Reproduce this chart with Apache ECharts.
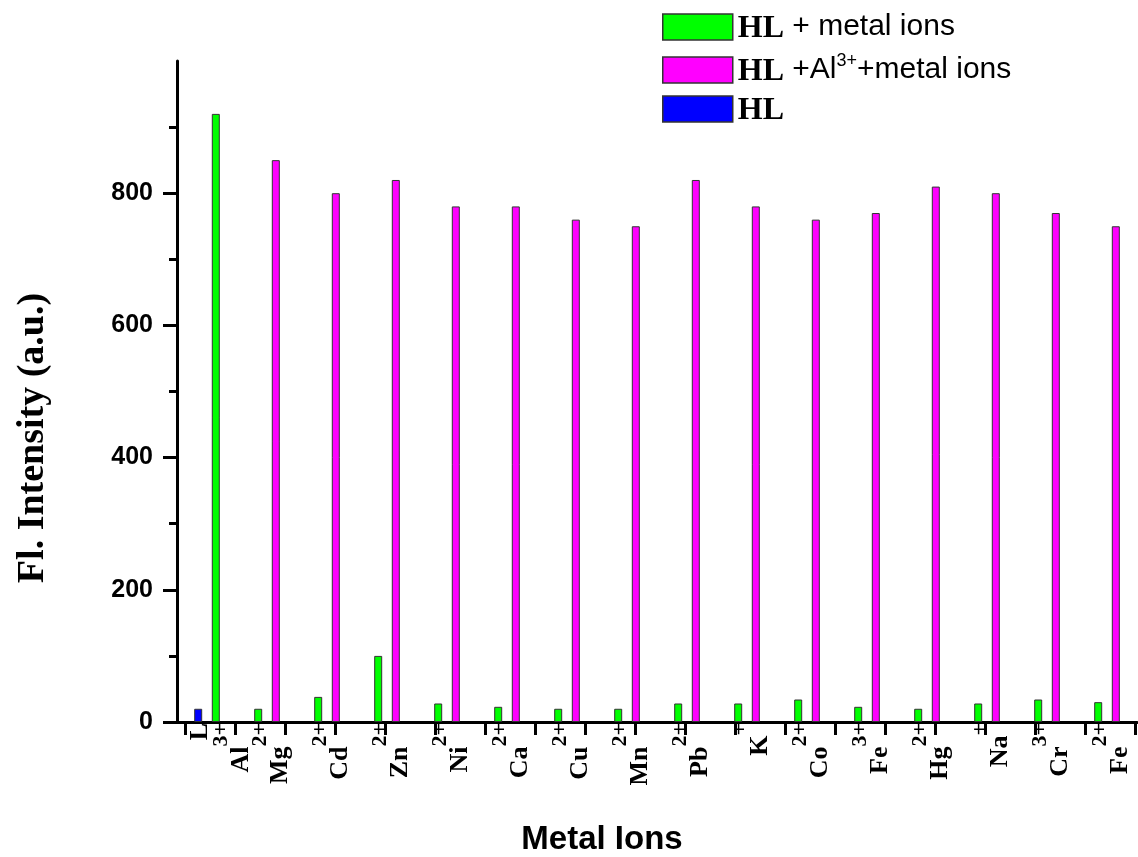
<!DOCTYPE html>
<html><head><meta charset="utf-8">
<script src="https://cdn.jsdelivr.net/npm/echarts@6/dist/echarts.min.js"></script>
<style>html,body{margin:0;padding:0;background:#fff}#c{width:1138px;height:857px}</style>
</head><body><div id="c"></div>
<script>
// ---- data ----
const ions = ['Al3+','Mg2+','Cd2+','Zn2+','Ni2+','Ca2+','Cu2+','Mn2+','Pb2+','K+','Co2+','Fe3+','Hg2+','Na+','Cr3+','Fe2+'];
const hlValue = 20;                       // HL alone (first group)
const hlMetal = [920,20,38,100,28,23,20,20,28,28,34,23,20,28,34,30];           // HL + metal ions
const hlAlMetal = [null,850,800,820,780,780,760,750,820,780,760,770,810,800,770,750]; // HL + Al3+ + metal ions
const yTickValues = [0,200,400,600,800];
const seriesNames = ['HL + metal ions', 'HL+Al3++metal ions', 'HL'];

// ---- build ----
const categories = ions.map((n, i) => i === 0 ? 'L\n' + n : n);
const blueData = ions.map((v, i) => i === 0 ? hlValue : null);
const greenLeft = hlMetal.map((v, i) => i === 0 ? null : v);
const greenAl = hlMetal.map((v, i) => i === 0 ? v : null);
const magenta = hlAlMetal.slice();

const GREEN = '#00ff00', MAGENTA = '#ff00ff', BLUE = '#0000ff';
const serif = 'Liberation Serif', sans = 'Liberation Sans';

function fmtIon(s) {
  const m = s.match(/^([A-Za-z]+)(\d*[+\-])$/);
  return m ? '{b|' + m[1] + '}{s|' + m[2] + '}' : '{b|' + s + '}';
}
function fmtCat(v) {
  const parts = v.split('\n');
  return parts.map((p, i) => (parts.length > 1 && i === 0) ? '{c|' + p + '}' : fmtIon(p)).join('\n');
}
function fmtLegend(name) {
  const rest = name.slice(2);
  let out = '{hl|HL}';
  if (!rest) return out;
  const m = rest.match(/^(.*Al)(3\+)(.*)$/);
  if (m) out += '{t| ' + m[1] + '}{sp|' + m[2] + '}{t|' + m[3] + '}';
  else out += '{t|' + rest + '}';
  return out;
}
const xTickPos = [];
for (let k = 0; k < 20; k++) xTickPos.push(0.17 + k);

const barCommon = { type: 'bar', barWidth: 8, barGap: '120%', xAxisIndex: 0 };

const chart = echarts.init(document.getElementById('c'), null, { renderer: 'canvas' });
chart.setOption({
  animation: false,
  backgroundColor: '#fff',
  grid: { left: 177, right: 1, top: 61, bottom: 135, containLabel: false },
  legend: {
    orient: 'vertical', left: 657, top: 7, itemWidth: 70, itemHeight: 26, itemGap: 7,
    icon: 'rect',
    data: seriesNames,
    itemStyle: { borderColor: '#333', borderWidth: 1.5 },
    formatter: fmtLegend,
    textStyle: {
      color: '#000',
      rich: {
        hl: { fontFamily: serif, fontWeight: 'bold', fontSize: 32, lineHeight: 36, verticalAlign: 'bottom', color: '#000' },
        t: { fontFamily: sans, fontSize: 30, lineHeight: 36, color: '#000' },
        sp: { fontFamily: sans, fontSize: 18, lineHeight: 16, verticalAlign: 'top', color: '#000' }
      }
    }
  },
  xAxis: [{
    type: 'category', data: categories.map((c, i) => i === 0 ? { value: c, textStyle: { padding: [26, 0, 0, 0] } } : c),
    position: 'bottom',
    axisLine: { show: true, lineStyle: { color: '#000', width: 3 } },
    axisTick: { show: false },
    axisLabel: {
      interval: 0, rotate: 90, margin: 1, padding: [11, 0, 0, 0], color: '#000',
      formatter: fmtCat,
      rich: {
        b: { fontFamily: serif, fontWeight: 'bold', fontSize: 26, lineHeight: 40, height: 25, verticalAlign: 'bottom', color: '#000' },
        s: { fontFamily: serif, fontWeight: 'bold', fontSize: 22, lineHeight: 15, height: 15, verticalAlign: 'top', color: '#000' },
        c: { fontFamily: serif, fontWeight: 'bold', fontSize: 26, lineHeight: 28, color: '#000' }
      }
    },
    splitLine: { show: false }
  }, {
    type: 'value', position: 'bottom', min: 0, max: 19.2,
    axisLine: { show: false },
    axisLabel: { show: false },
    axisTick: { show: true, length: 13, customValues: xTickPos, lineStyle: { color: '#000', width: 3 } },
    splitLine: { show: false }
  }],
  yAxis: {
    type: 'value', min: 0, max: 1000, interval: 200,
    axisLine: { show: true, lineStyle: { color: '#000', width: 3 } },
    axisTick: { show: true, length: 14, customValues: yTickValues, lineStyle: { color: '#000', width: 3 } },
    minorTick: { show: true, splitNumber: 2, length: 8, lineStyle: { color: '#000', width: 3 } },
    axisLabel: { customValues: yTickValues, margin: 24, color: '#000',
      fontFamily: sans, fontWeight: 'bold', fontSize: 25 },
    splitLine: { show: false }, minorSplitLine: { show: false }
  },
  graphic: [
    { type: 'text', x: 33, y: 438, rotation: Math.PI / 2,
      style: { text: 'Fl. Intensity (a.u.)', font: 'bold 38px "Liberation Serif"', fill: '#000',
        align: 'center', verticalAlign: 'middle', textAlign: 'center', textVerticalAlign: 'middle' } },
    { type: 'text', x: 602, y: 840,
      style: { text: 'Metal Ions', font: 'bold 33px "Liberation Sans"', fill: '#000',
        align: 'center', verticalAlign: 'middle', textAlign: 'center', textVerticalAlign: 'middle' } }
  ],
  series: [
    Object.assign({}, barCommon, { name: seriesNames[2], stack: 'left', data: blueData, itemStyle: { color: BLUE, borderColor: '#333', borderWidth: 1 } }),
    Object.assign({}, barCommon, { name: seriesNames[0], stack: 'left', data: greenLeft, itemStyle: { color: GREEN, borderColor: '#333', borderWidth: 1 } }),
    Object.assign({}, barCommon, { name: seriesNames[1], stack: 'right', data: magenta, itemStyle: { color: MAGENTA, borderColor: '#333', borderWidth: 1 } }),
    Object.assign({}, barCommon, { name: seriesNames[0], stack: 'right', data: greenAl, itemStyle: { color: GREEN, borderColor: '#333', borderWidth: 1 } })
  ]
});
</script>
</body></html>
